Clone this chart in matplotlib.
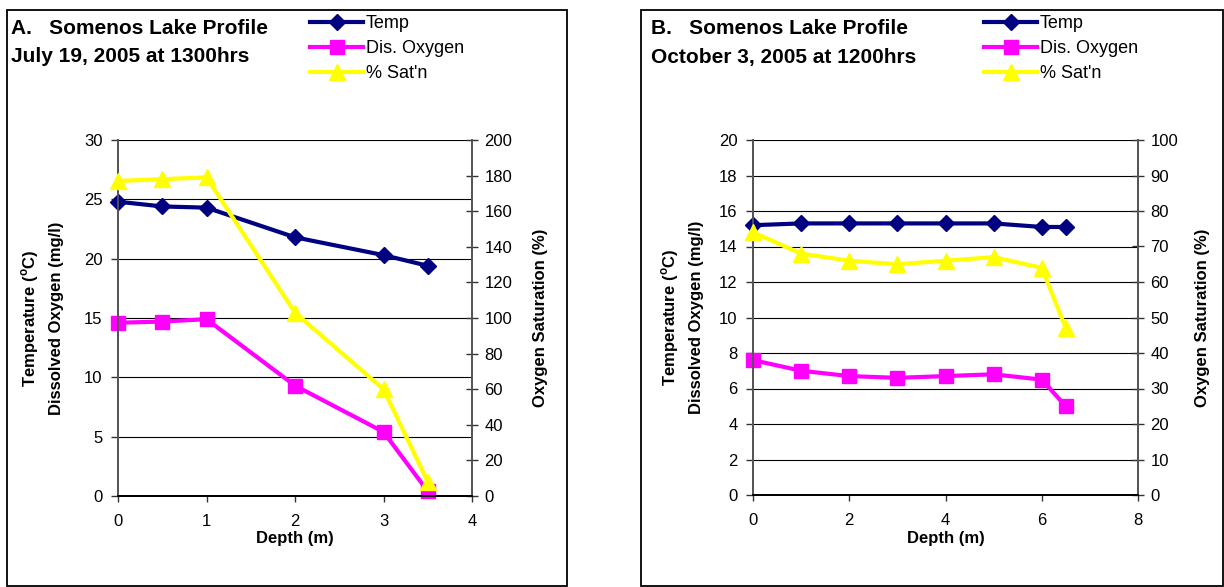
import matplotlib
matplotlib.use('Agg')
import matplotlib.pyplot as plt
from matplotlib.patches import Rectangle

plt.rcParams['font.family'] = ['Liberation Sans', 'DejaVu Sans']
plt.rcParams['mathtext.fontset'] = 'custom'
plt.rcParams['mathtext.rm'] = 'Liberation Sans:bold'
plt.rcParams['mathtext.bf'] = 'Liberation Sans:bold'

# ---------------- data ----------------
series_labels = ['Temp', 'Dis. Oxygen', "% Sat'n"]

depth_a = [0, 0.5, 1, 2, 3, 3.5]
temp_a = [24.8, 24.4, 24.3, 21.8, 20.3, 19.4]
do_a = [14.6, 14.7, 14.9, 9.3, 5.4, 0.4]
sat_a = [177, 178, 179, 103, 60, 8]

depth_b = [0, 1, 2, 3, 4, 5, 6, 6.5]
temp_b = [15.2, 15.3, 15.3, 15.3, 15.3, 15.3, 15.1, 15.1]
do_b = [7.6, 7.0, 6.7, 6.6, 6.7, 6.8, 6.5, 5.0]
sat_b = [74, 68, 66, 65, 66, 67, 64, 47]

title_a = ['A.   Somenos Lake Profile', 'July 19, 2005 at 1300hrs']
title_b = ['B.   Somenos Lake Profile', 'October 3, 2005 at 1200hrs']

W, H = 1224, 587
fig = plt.figure(figsize=(W / 100, H / 100), dpi=100)


def fx(px):
    return px / W


def fy(py):
    return 1 - py / H


def panel(box, plot, depth, temp, do, sat, xmax, xstep, ymax, ystep, y2max, y2step,
          titles, title_x, lab_x, rlab_x, leg_x):
    bx0, by0, bx1, by1 = box
    fig.patches.append(Rectangle((fx(bx0), fy(by1)), fx(bx1) - fx(bx0), (by1 - by0) / H,
                                 transform=fig.transFigure, fill=False,
                                 edgecolor='black', linewidth=1.3))
    px0, py0, px1, py1 = plot
    ax = fig.add_axes([fx(px0), fy(py1), fx(px1) - fx(px0), (py1 - py0) / H])
    ax2 = ax.twinx()

    l1, = ax.plot(depth, temp, color='#000080', lw=3, marker='D', ms=8,
                  mec='#000080', mfc='#000080', clip_on=False, zorder=3)
    l2, = ax.plot(depth, do, color='#FF00FF', lw=3, marker='s', ms=10,
                  mec='#FF00FF', mfc='#FF00FF', clip_on=False, zorder=4)
    l3, = ax2.plot(depth, sat, color='#FFFF00', lw=3, marker='^', ms=11,
                   mec='#FFFF00', mfc='#FFFF00', clip_on=False, zorder=5)

    ax.set_xlim(0, xmax)
    ax.set_ylim(0, ymax)
    ax2.set_ylim(0, y2max)
    ax.set_xticks([i * xstep for i in range(int(round(xmax / xstep)) + 1)])
    ax.set_yticks([i * ystep for i in range(int(round(ymax / ystep)) + 1)])
    ax2.set_yticks([i * y2step for i in range(int(round(y2max / y2step)) + 1)])

    ax.yaxis.grid(True, color='black', linewidth=0.8)
    ax.set_axisbelow(True)

    for a in (ax, ax2):
        a.spines['top'].set_visible(False)
        a.spines['left'].set_color('#555555')
        a.spines['right'].set_color('#555555')
        a.spines['bottom'].set_color('black')
        for s in a.spines.values():
            s.set_linewidth(1.3)
    ax.tick_params(axis='y', direction='out', length=5, width=1, pad=6,
                   labelsize=12, color='#333333')
    ax.tick_params(axis='x', direction='out', length=4, width=1, pad=9,
                   labelsize=12, color='#333333')
    ax2.tick_params(axis='y', direction='inout', length=8, width=1, pad=5,
                    labelsize=12, color='#333333')

    cy = fy((py0 + py1) / 2)
    fig.text(fx(lab_x[0]), cy, r'Temperature ($^{\mathrm{o}}$C)', rotation=90,
             ha='center', va='center', fontsize=12, fontweight='bold')
    fig.text(fx(lab_x[1]), cy, 'Dissolved Oxygen (mg/l)', rotation=90,
             ha='center', va='center', fontsize=12, fontweight='bold')
    fig.text(fx(rlab_x), cy, 'Oxygen Saturation (%)', rotation=90,
             ha='center', va='center', fontsize=12, fontweight='bold')
    fig.text(fx((px0 + px1) / 2), fy(539), 'Depth (m)', ha='center', va='center',
             fontsize=12, fontweight='bold')

    fig.text(fx(title_x), fy(28), titles[0], fontsize=15, fontweight='bold',
             ha='left', va='center')
    fig.text(fx(title_x), fy(57), titles[1], fontsize=15, fontweight='bold',
             ha='left', va='center')

    fig.legend([l1, l2, l3], series_labels, loc='upper left',
               bbox_to_anchor=(fx(leg_x), fy(15)), frameon=False, fontsize=13,
               handlelength=2.95, handletextpad=0.15, labelspacing=0.45,
               borderpad=0, borderaxespad=0)


panel((7, 9.5, 567, 586), (118, 140, 472, 496), depth_a, temp_a, do_a, sat_a,
      4, 1, 30, 5, 200, 20, title_a, 10.5, (30, 57), 540, 310)
panel((641, 9.5, 1223, 586), (753, 140, 1138, 495), depth_b, temp_b, do_b, sat_b,
      8, 2, 20, 2, 100, 10, title_b, 651, (670, 697), 1202, 984)

fig.savefig('out.png', dpi=100, facecolor='white')
